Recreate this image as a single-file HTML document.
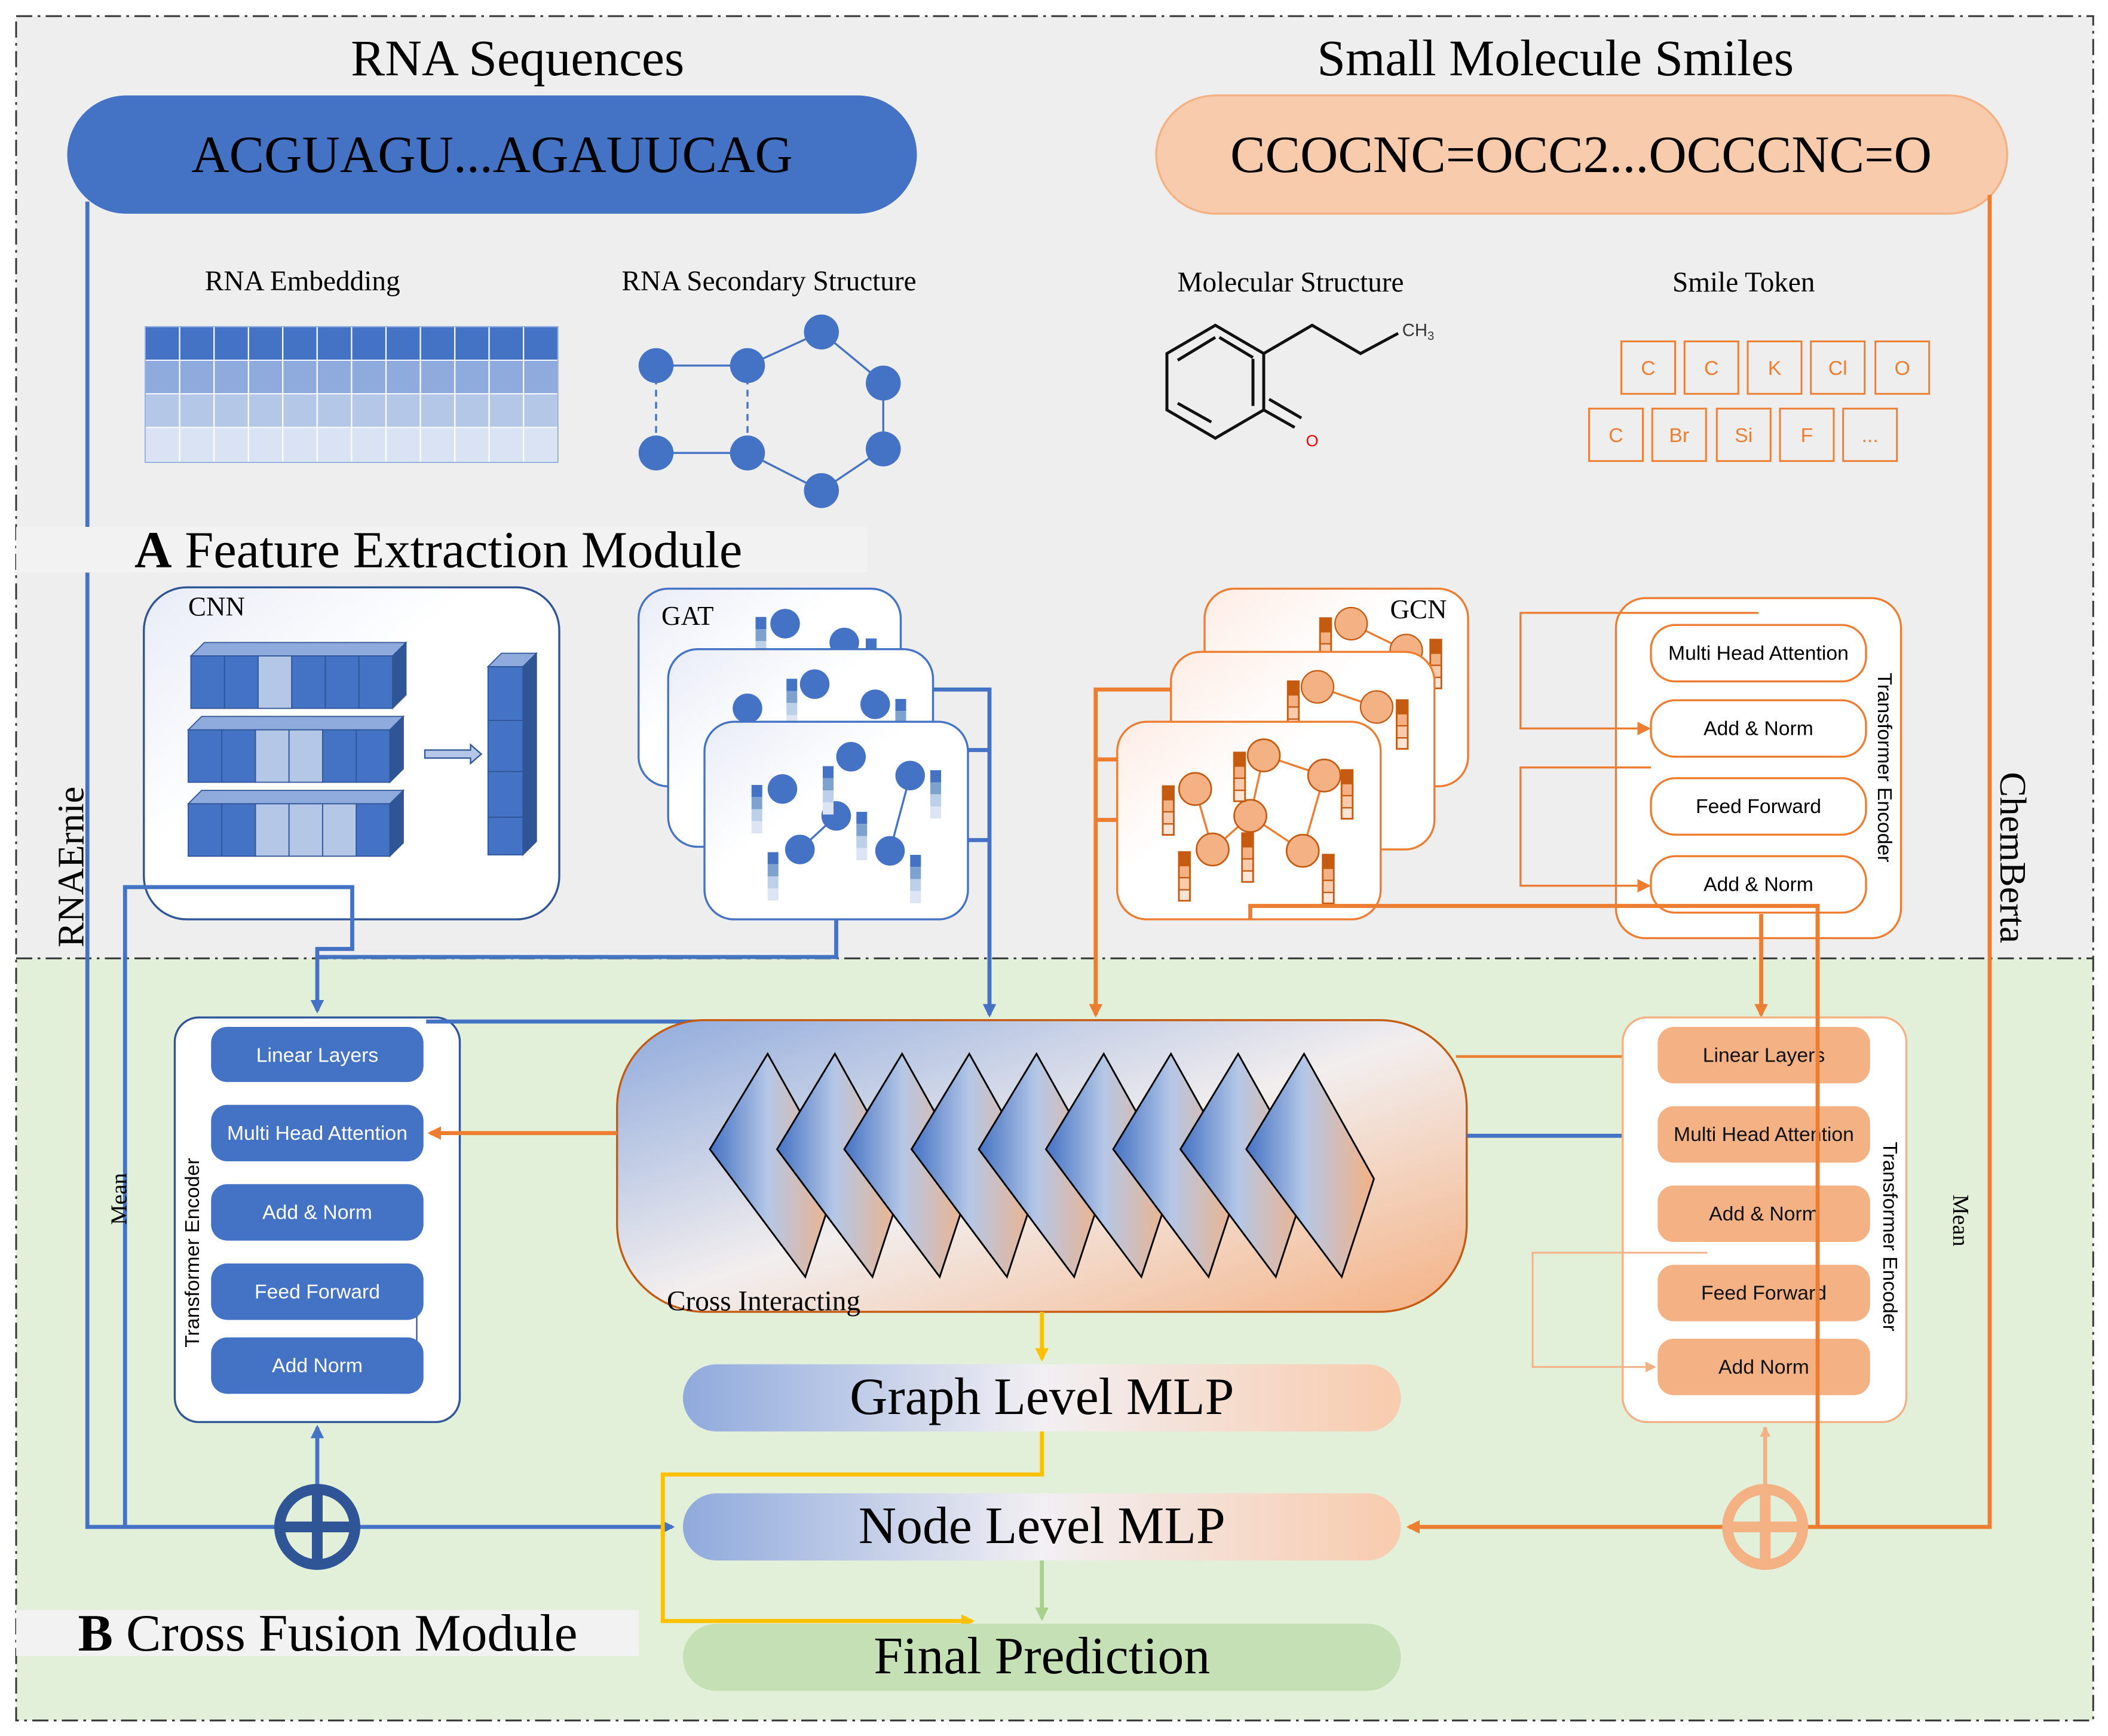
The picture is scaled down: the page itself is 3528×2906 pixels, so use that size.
<!DOCTYPE html>
<html><head><meta charset="utf-8"><style>html,body{margin:0;padding:0;background:#fff}svg{display:block}</style></head><body>
<svg xmlns="http://www.w3.org/2000/svg" width="3528" height="2906" viewBox="0 0 1568 1291.56" font-family="Liberation Serif, serif">
<defs>
<linearGradient id="cg" x1="0" y1="0" x2="1" y2="1"><stop offset="0" stop-color="#8faadc"/><stop offset="0.5" stop-color="#f2eeee"/><stop offset="1" stop-color="#f4b183"/></linearGradient>
<linearGradient id="dg" x1="0" y1="0" x2="1" y2="0"><stop offset="0" stop-color="#4472c4"/><stop offset="0.45" stop-color="#b4c7e7"/><stop offset="1" stop-color="#f4b183"/></linearGradient>
<linearGradient id="mg" x1="0" y1="0" x2="1" y2="0"><stop offset="0" stop-color="#8faadc"/><stop offset="0.5" stop-color="#f2eff3"/><stop offset="1" stop-color="#f8cbad"/></linearGradient>
<linearGradient id="bw" x1="0" y1="0" x2="1" y2="1"><stop offset="0" stop-color="#e8ecf7"/><stop offset="0.4" stop-color="#fff"/></linearGradient>
<linearGradient id="ow" x1="0" y1="0" x2="1" y2="1"><stop offset="0" stop-color="#fdece4"/><stop offset="0.4" stop-color="#fff"/></linearGradient>
<marker id="ab" markerWidth="10" markerHeight="10" refX="8" refY="5" orient="auto" markerUnits="userSpaceOnUse"><path d="M0,0 L10,5 L0,10 z" fill="#4472c4"/></marker>
<marker id="ao" markerWidth="10" markerHeight="10" refX="8" refY="5" orient="auto" markerUnits="userSpaceOnUse"><path d="M0,0 L10,5 L0,10 z" fill="#ed7d31"/></marker>
<marker id="ay" markerWidth="10" markerHeight="10" refX="8" refY="5" orient="auto" markerUnits="userSpaceOnUse"><path d="M0,0 L10,5 L0,10 z" fill="#ffc000"/></marker>
<marker id="ag" markerWidth="10" markerHeight="10" refX="8" refY="5" orient="auto" markerUnits="userSpaceOnUse"><path d="M0,0 L10,5 L0,10 z" fill="#a9d18e"/></marker>
<marker id="alo" markerWidth="8" markerHeight="8" refX="7" refY="4" orient="auto" markerUnits="userSpaceOnUse"><path d="M0,0 L8,4 L0,8 z" fill="#f4b183"/></marker>
<g id="bbar"><rect x="0" y="0" width="8" height="9" fill="#4472c4"/><rect x="0" y="9" width="8" height="9" fill="#7ea2d0"/><rect x="0" y="18" width="8" height="9" fill="#bdd0ea"/><rect x="0" y="27" width="8" height="9" fill="#dde4f3"/></g>
<g id="obar"><rect x="0" y="0" width="8" height="36" fill="#fff" stroke="#c55a11" stroke-width="1.5"/><rect x="0" y="0" width="8" height="10" fill="#c55a11"/><rect x="0" y="10" width="8" height="9" fill="#f4b183" stroke="#c55a11" stroke-width="1"/><rect x="0" y="19" width="8" height="9" fill="#f8cbad" stroke="#c55a11" stroke-width="1"/><rect x="0" y="28" width="8" height="8" fill="#fce4d6" stroke="#c55a11" stroke-width="1"/></g>
<g id="gatc">
<line x1="622" y1="607" x2="595" y2="632" stroke="#4472c4" stroke-width="1.5"/><line x1="677" y1="577" x2="662" y2="633" stroke="#4472c4" stroke-width="1.5"/>
<circle cx="582" cy="587" r="11" fill="#4472c4"/><circle cx="633" cy="563" r="11" fill="#4472c4"/><circle cx="677" cy="577" r="11" fill="#4472c4"/><circle cx="622" cy="607" r="11" fill="#4472c4"/><circle cx="595" cy="632" r="11" fill="#4472c4"/><circle cx="662" cy="633" r="11" fill="#4472c4"/>
<use href="#bbar" x="559" y="584"/><use href="#bbar" x="612" y="570"/><use href="#bbar" x="637" y="604"/><use href="#bbar" x="571" y="634"/><use href="#bbar" x="677" y="636"/><use href="#bbar" x="692" y="573"/>
</g>
<g id="gcnc" stroke="#ed7d31" stroke-width="1.5">
<line x1="940" y1="562" x2="985" y2="577"/><line x1="940" y1="562" x2="930" y2="607"/><line x1="889" y1="587" x2="902" y2="632"/><line x1="930" y1="607" x2="902" y2="632"/><line x1="930" y1="607" x2="969" y2="633"/><line x1="985" y1="577" x2="969" y2="633"/>
<g fill="#f4b183" stroke="#c55a11" stroke-width="1.2"><circle cx="889" cy="587" r="12"/><circle cx="940" cy="562" r="12"/><circle cx="985" cy="577" r="12"/><circle cx="930" cy="607" r="12"/><circle cx="902" cy="632" r="12"/><circle cx="969" cy="633" r="12"/></g>
<g stroke="none"><use href="#obar" x="865" y="585"/><use href="#obar" x="918" y="560"/><use href="#obar" x="924" y="620"/><use href="#obar" x="877" y="634"/><use href="#obar" x="998" y="573"/><use href="#obar" x="984" y="636"/></g>
</g>
</defs>

<rect width="1568" height="1292" fill="#fff"/>
<rect x="12" y="12" width="1545" height="701" fill="#eeeeee"/>
<rect x="12" y="713" width="1545" height="567" fill="#e2efd9"/>
<rect x="12" y="12" width="1545" height="1268" fill="none" stroke="#333" stroke-width="1.3" stroke-dasharray="12,4,2,4"/>
<line x1="12" y1="713" x2="1557" y2="713" stroke="#333" stroke-width="1.3" stroke-dasharray="12,4,2,4"/>

<text x="385" y="56" font-size="38" text-anchor="middle">RNA Sequences</text>
<text x="1157" y="56" font-size="38" text-anchor="middle">Small Molecule Smiles</text>
<rect x="50" y="71" width="632" height="88" rx="44" fill="#4472c4"/>
<text x="366" y="128" font-size="39" text-anchor="middle">ACGUAGU...AGAUUCAG</text>
<rect x="860" y="71" width="633" height="88" rx="44" fill="#f8cbad" stroke="#f4b183" stroke-width="1.5"/>
<text x="1176" y="128" font-size="39" text-anchor="middle">CCOCNC=OCC2...OCCCNC=O</text>

<path d="M65,150 V1136 H500" fill="none" stroke="#4472c4" stroke-width="3" marker-end="url(#ab)"/>
<path d="M1480,145 V1136 H1048" fill="none" stroke="#ed7d31" stroke-width="3" marker-end="url(#ao)"/>

<text font-size="21" x="225" y="216" text-anchor="middle">RNA Embedding</text>
<text font-size="21" x="572" y="216" text-anchor="middle">RNA Secondary Structure</text>
<text font-size="21" x="960" y="217" text-anchor="middle">Molecular Structure</text>
<text font-size="21" x="1297" y="217" text-anchor="middle">Smile Token</text>

<g stroke="#fff" stroke-width="0.8">
<rect x="108" y="243" width="307" height="25" fill="#4472c4"/>
<rect x="108" y="268" width="307" height="25" fill="#8faadc"/>
<rect x="108" y="293" width="307" height="25" fill="#b4c7e7"/>
<rect x="108" y="318" width="307" height="26" fill="#dae3f3"/>
</g>
<g stroke="#fff" stroke-width="1">
<line x1="133.6" y1="243" x2="133.6" y2="344"/><line x1="159.2" y1="243" x2="159.2" y2="344"/><line x1="184.8" y1="243" x2="184.8" y2="344"/><line x1="210.3" y1="243" x2="210.3" y2="344"/><line x1="235.9" y1="243" x2="235.9" y2="344"/><line x1="261.5" y1="243" x2="261.5" y2="344"/><line x1="287.1" y1="243" x2="287.1" y2="344"/><line x1="312.7" y1="243" x2="312.7" y2="344"/><line x1="338.3" y1="243" x2="338.3" y2="344"/><line x1="363.8" y1="243" x2="363.8" y2="344"/><line x1="389.4" y1="243" x2="389.4" y2="344"/>
</g>
<rect x="108" y="243" width="307" height="101" fill="none" stroke="#8faadc" stroke-width="0.8"/>

<g stroke="#4472c4" stroke-width="1.5">
<line x1="488" y1="272" x2="556" y2="272"/><line x1="556" y1="272" x2="611" y2="247"/><line x1="611" y1="247" x2="657" y2="285"/><line x1="657" y1="285" x2="657" y2="334"/><line x1="657" y1="334" x2="611" y2="365"/><line x1="611" y1="365" x2="556" y2="337"/><line x1="556" y1="337" x2="488" y2="337"/>
<line x1="488" y1="272" x2="488" y2="337" stroke-dasharray="5,4"/><line x1="556" y1="272" x2="556" y2="337" stroke-dasharray="5,4"/>
</g>
<g fill="#4472c4"><circle cx="488" cy="272" r="13"/><circle cx="556" cy="272" r="13"/><circle cx="611" cy="247" r="13"/><circle cx="657" cy="285" r="13"/><circle cx="657" cy="334" r="13"/><circle cx="611" cy="365" r="13"/><circle cx="556" cy="337" r="13"/><circle cx="488" cy="337" r="13"/></g>

<g stroke="#111" stroke-width="2.2" fill="none">
<polygon points="904,242 940,263 940,305 904,326 868,305 868,263"/>
<line x1="907" y1="251" x2="932" y2="266"/><line x1="932" y1="267" x2="932" y2="302"/><line x1="876" y1="300" x2="901" y2="314"/>
<line x1="876" y1="268" x2="904" y2="251"/>
<polyline points="940,263 976,242 1012,263 1040,248"/>
<line x1="940" y1="305" x2="963" y2="318"/><line x1="944" y1="297" x2="968" y2="311"/>
</g>
<text x="1043" y="250" font-family="Liberation Sans, sans-serif" font-size="13" fill="#333">CH<tspan font-size="9" dy="3">3</tspan></text>
<text x="976" y="332" font-family="Liberation Sans, sans-serif" font-size="12" fill="#f00" text-anchor="middle">O</text>

<g fill="none" stroke="#ed7d31" stroke-width="1.3">
<rect x="1206" y="254" width="40" height="39"/><rect x="1253" y="254" width="40" height="39"/><rect x="1300" y="254" width="40" height="39"/><rect x="1347" y="254" width="40" height="39"/><rect x="1395" y="254" width="40" height="39"/>
<rect x="1182" y="304" width="40" height="39"/><rect x="1229" y="304" width="40" height="39"/><rect x="1277" y="304" width="40" height="39"/><rect x="1324" y="304" width="40" height="39"/><rect x="1371" y="304" width="40" height="39"/>
</g>
<g font-family="Liberation Sans, sans-serif" font-size="15" fill="#ed7d31" text-anchor="middle">
<text x="1226" y="279">C</text><text x="1273" y="279">C</text><text x="1320" y="279">K</text><text x="1367" y="279">Cl</text><text x="1415" y="279">O</text>
<text x="1202" y="329">C</text><text x="1249" y="329">Br</text><text x="1297" y="329">Si</text><text x="1344" y="329">F</text><text x="1391" y="329">...</text>
</g>

<rect x="12" y="392" width="633" height="34" fill="#f2f2f2"/>
<text x="100" y="422" font-size="38.5"><tspan font-weight="bold">A</tspan> Feature Extraction Module</text>

<rect x="107" y="437" width="309" height="247" rx="32" fill="url(#bw)" stroke="#2f5597" stroke-width="1.5"/>
<text x="140" y="458" font-size="20">CNN</text>
<g stroke="#2f5597" stroke-width="0.8">
<g transform="translate(142,488)">
<polygon points="0,0 10,-10 160,-10 150,0" fill="#8faadc"/><polygon points="150,0 160,-10 160,29 150,39" fill="#2f5597"/>
<rect x="0" y="0" width="25" height="39" fill="#4472c4"/><rect x="25" y="0" width="25" height="39" fill="#4472c4"/><rect x="50" y="0" width="25" height="39" fill="#b4c7e7"/><rect x="75" y="0" width="25" height="39" fill="#4472c4"/><rect x="100" y="0" width="25" height="39" fill="#4472c4"/><rect x="125" y="0" width="25" height="39" fill="#4472c4"/>
</g>
<g transform="translate(140,543)">
<polygon points="0,0 10,-10 160,-10 150,0" fill="#8faadc"/><polygon points="150,0 160,-10 160,29 150,39" fill="#2f5597"/>
<rect x="0" y="0" width="25" height="39" fill="#4472c4"/><rect x="25" y="0" width="25" height="39" fill="#4472c4"/><rect x="50" y="0" width="25" height="39" fill="#b4c7e7"/><rect x="75" y="0" width="25" height="39" fill="#b4c7e7"/><rect x="100" y="0" width="25" height="39" fill="#4472c4"/><rect x="125" y="0" width="25" height="39" fill="#4472c4"/>
</g>
<g transform="translate(140,598)">
<polygon points="0,0 10,-10 160,-10 150,0" fill="#8faadc"/><polygon points="150,0 160,-10 160,29 150,39" fill="#2f5597"/>
<rect x="0" y="0" width="25" height="39" fill="#4472c4"/><rect x="25" y="0" width="25" height="39" fill="#4472c4"/><rect x="50" y="0" width="25" height="39" fill="#b4c7e7"/><rect x="75" y="0" width="25" height="39" fill="#b4c7e7"/><rect x="100" y="0" width="25" height="39" fill="#b4c7e7"/><rect x="125" y="0" width="25" height="39" fill="#4472c4"/>
</g>
<g transform="translate(363,496)">
<polygon points="0,0 10,-10 36,-10 26,0" fill="#8faadc"/><polygon points="26,0 36,-10 36,130 26,140" fill="#2f5597"/>
<rect x="0" y="0" width="26" height="40" fill="#4472c4"/><rect x="0" y="40" width="26" height="38" fill="#4472c4"/><rect x="0" y="78" width="26" height="34" fill="#4472c4"/><rect x="0" y="112" width="26" height="28" fill="#4472c4"/>
</g>
<polygon points="316,558 350,558 350,554 358,561 350,568 350,564 316,564" fill="#b4c7e7" stroke="#2f5597" stroke-width="1"/>
</g>

<rect x="475" y="438" width="195" height="147" rx="22" fill="url(#bw)" stroke="#4472c4" stroke-width="1.5"/>
<text x="492" y="465" font-size="20">GAT</text>
<g><circle cx="584" cy="464" r="11" fill="#4472c4"/><circle cx="628" cy="478" r="11" fill="#4472c4"/><use href="#bbar" x="562" y="459"/><use href="#bbar" x="644" y="475"/></g>
<rect x="497" y="483" width="197" height="147" rx="22" fill="url(#bw)" stroke="#4472c4" stroke-width="1.5"/>
<g><circle cx="606" cy="509" r="11" fill="#4472c4"/><circle cx="651" cy="524" r="11" fill="#4472c4"/><circle cx="556" cy="527" r="11" fill="#4472c4"/><use href="#bbar" x="585" y="505"/><use href="#bbar" x="666" y="520"/></g>
<rect x="524" y="537" width="196" height="147" rx="22" fill="url(#bw)" stroke="#4472c4" stroke-width="1.5"/>
<use href="#gatc"/>

<rect x="896" y="438" width="196" height="147" rx="22" fill="url(#ow)" stroke="#ed7d31" stroke-width="1.5"/>
<text x="1034" y="460" font-size="20">GCN</text>
<g><line x1="1005" y1="464" x2="1046" y2="484" stroke="#ed7d31" stroke-width="1.5"/><circle cx="1005" cy="464" r="12" fill="#f4b183" stroke="#c55a11"/><circle cx="1046" cy="484" r="12" fill="#f4b183" stroke="#c55a11"/><use href="#obar" x="982" y="460"/><use href="#obar" x="1064" y="476"/></g>
<rect x="871" y="485" width="196" height="147" rx="22" fill="url(#ow)" stroke="#ed7d31" stroke-width="1.5"/>
<g><line x1="980" y1="511" x2="1024" y2="526" stroke="#ed7d31" stroke-width="1.5"/><circle cx="980" cy="511" r="12" fill="#f4b183" stroke="#c55a11"/><circle cx="1024" cy="526" r="12" fill="#f4b183" stroke="#c55a11"/><use href="#obar" x="958" y="507"/><use href="#obar" x="1039" y="521"/></g>
<rect x="831" y="537" width="196" height="147" rx="22" fill="url(#ow)" stroke="#ed7d31" stroke-width="1.5"/>
<use href="#gcnc"/>

<rect x="1202" y="445" width="212" height="253" rx="22" fill="#fff" stroke="#ed7d31" stroke-width="1.5"/>
<g fill="#fff" stroke="#ed7d31" stroke-width="1.5">
<rect x="1228" y="465" width="160" height="42" rx="18"/><rect x="1228" y="521" width="160" height="42" rx="18"/><rect x="1228" y="579" width="160" height="42" rx="18"/><rect x="1228" y="637" width="160" height="42" rx="18"/>
</g>
<g font-family="Liberation Sans, sans-serif" font-size="15" text-anchor="middle">
<text x="1308" y="491">Multi Head Attention</text><text x="1308" y="547">Add &amp; Norm</text><text x="1308" y="605">Feed Forward</text><text x="1308" y="663">Add &amp; Norm</text>
</g>
<text transform="translate(1397,571) rotate(90)" font-family="Liberation Sans, sans-serif" font-size="15" text-anchor="middle">Transformer Encoder</text>
<path d="M1308,456 H1131 V542 H1226" fill="none" stroke="#ed7d31" stroke-width="1.5" marker-end="url(#ao)"/>
<path d="M1228,571 H1131 V659 H1226" fill="none" stroke="#ed7d31" stroke-width="1.5" marker-end="url(#ao)"/>

<text transform="translate(62,645) rotate(-90)" font-size="28" text-anchor="middle">RNAErnie</text>
<text transform="translate(1488,638) rotate(90)" font-size="28" text-anchor="middle">ChemBerta</text>

<path d="M93,1136 V660 H262 V706 H236 V752" fill="none" stroke="#4472c4" stroke-width="3" marker-end="url(#ab)"/>
<path d="M622,684 V712 H236" fill="none" stroke="#4472c4" stroke-width="3"/>
<path d="M694,513 H736 V755" fill="none" stroke="#4472c4" stroke-width="3" marker-end="url(#ab)"/>
<path d="M720,558 H736" fill="none" stroke="#4472c4" stroke-width="3"/>
<path d="M720,625 H736" fill="none" stroke="#4472c4" stroke-width="3"/>
<path d="M871,513 H815 V755" fill="none" stroke="#ed7d31" stroke-width="3" marker-end="url(#ao)"/>
<path d="M831,565 H815 M831,610 H815" fill="none" stroke="#ed7d31" stroke-width="3"/>
<path d="M930,684 V674 H1352 V1136" fill="none" stroke="#ed7d31" stroke-width="3"/>
<path d="M1310,680 V755" fill="none" stroke="#ed7d31" stroke-width="3" marker-end="url(#ao)"/>

<rect x="130" y="757" width="212" height="301" rx="18" fill="#fff" stroke="#2f5597" stroke-width="1.5"/>
<text transform="translate(148,932) rotate(-90)" font-family="Liberation Sans, sans-serif" font-size="15" text-anchor="middle">Transformer Encoder</text>
<path d="M236,948 H310 V1007 H300" fill="none" stroke="#2f5597" stroke-width="1"/>
<g fill="#4472c4">
<rect x="157" y="764" width="158" height="41" rx="12"/><rect x="157" y="822" width="158" height="42" rx="12"/><rect x="157" y="881" width="158" height="42" rx="12"/><rect x="157" y="940" width="158" height="42" rx="12"/><rect x="157" y="995" width="158" height="42" rx="12"/>
</g>
<g font-family="Liberation Sans, sans-serif" font-size="15" fill="#fff" text-anchor="middle">
<text x="236" y="790">Linear Layers</text><text x="236" y="848">Multi Head Attention</text><text x="236" y="907">Add &amp; Norm</text><text x="236" y="966">Feed Forward</text><text x="236" y="1021">Add Norm</text>
</g>
<text transform="translate(94,892) rotate(-90)" font-size="17" text-anchor="middle">Mean</text>

<path d="M317,760 H735" fill="none" stroke="#4472c4" stroke-width="3"/>
<rect x="459" y="759" width="632" height="217" rx="65" fill="url(#cg)" stroke="#c55a11" stroke-width="1.5"/>
<g stroke="#000" stroke-width="1.3" fill="url(#dg)">
<polygon points="571,784 623,877 599,950 528,855"/>
<polygon points="621,784 673,877 649,950 578,855"/>
<polygon points="671,784 723,877 699,950 628,855"/>
<polygon points="721,784 773,877 749,950 678,855"/>
<polygon points="771,784 823,877 799,950 728,855"/>
<polygon points="821,784 873,877 849,950 778,855"/>
<polygon points="871,784 923,877 899,950 828,855"/>
<polygon points="921,784 973,877 949,950 878,855"/>
<polygon points="970,784 1022,877 998,950 927,855"/>
</g>
<text x="496" y="975" font-size="21">Cross Interacting</text>
<path d="M459,843 H320" fill="none" stroke="#ed7d31" stroke-width="3" marker-end="url(#ao)"/>
<path d="M1091,845 H1231" fill="none" stroke="#4472c4" stroke-width="3" marker-end="url(#ab)"/>
<path d="M1083,786 H1233" fill="none" stroke="#ed7d31" stroke-width="2"/>

<rect x="1207" y="757" width="211" height="301" rx="18" fill="#fff" stroke="#f4b183" stroke-width="1.5"/>
<text transform="translate(1401,920) rotate(90)" font-family="Liberation Sans, sans-serif" font-size="15" text-anchor="middle">Transformer Encoder</text>
<text transform="translate(1453,908) rotate(90)" font-size="17" text-anchor="middle">Mean</text>
<g fill="#f4b183">
<rect x="1233" y="764" width="158" height="42" rx="12"/><rect x="1233" y="823" width="158" height="42" rx="12"/><rect x="1233" y="882" width="158" height="42" rx="12"/><rect x="1233" y="941" width="158" height="42" rx="12"/><rect x="1233" y="996" width="158" height="42" rx="12"/>
</g>
<path d="M1270,932 H1140 V1017 H1231" fill="none" stroke="#f4b183" stroke-width="1.3" marker-end="url(#alo)"/>
<g font-family="Liberation Sans, sans-serif" font-size="15" fill="#111" text-anchor="middle">
<text x="1312" y="790">Linear Layers</text><text x="1312" y="849">Multi Head Attention</text><text x="1312" y="908">Add &amp; Norm</text><text x="1312" y="967">Feed Forward</text><text x="1312" y="1022">Add Norm</text>
</g>
<path d="M1352,680 V1136" fill="none" stroke="#ed7d31" stroke-width="3"/>

<path d="M775,976 V1011" fill="none" stroke="#ffc000" stroke-width="3" marker-end="url(#ay)"/>
<rect x="508" y="1015" width="534" height="50" rx="25" fill="url(#mg)"/>
<text x="775" y="1052" font-size="39" text-anchor="middle">Graph Level MLP</text>
<path d="M775,1065 V1097 H493 V1206 H723" fill="none" stroke="#ffc000" stroke-width="3" marker-end="url(#ay)"/>
<rect x="508" y="1111" width="534" height="50" rx="25" fill="url(#mg)"/>
<text x="775" y="1148" font-size="39" text-anchor="middle">Node Level MLP</text>
<path d="M775,1161 V1204" fill="none" stroke="#a9d18e" stroke-width="3" marker-end="url(#ag)"/>
<rect x="508" y="1208" width="534" height="50" rx="25" fill="#c5e0b4"/>
<text x="775" y="1245" font-size="39" text-anchor="middle">Final Prediction</text>

<path d="M236,1106 V1062" fill="none" stroke="#4472c4" stroke-width="3" marker-end="url(#ab)"/>
<circle cx="236" cy="1136" r="28" fill="none" stroke="#2f5597" stroke-width="8"/>
<path d="M208,1136 H264 M236,1108 V1164" stroke="#2f5597" stroke-width="8"/>
<path d="M1313,1106 V1062" fill="none" stroke="#f4b183" stroke-width="3" marker-end="url(#alo)"/>
<circle cx="1313" cy="1136" r="28" fill="none" stroke="#f4b183" stroke-width="8"/>
<path d="M1285,1136 H1341 M1313,1108 V1164" stroke="#f4b183" stroke-width="8"/>

<rect x="12" y="1198" width="463" height="34" fill="#f2f2f2"/>
<text x="58" y="1228" font-size="39"><tspan font-weight="bold">B</tspan> Cross Fusion Module</text>
</svg>
</body></html>
